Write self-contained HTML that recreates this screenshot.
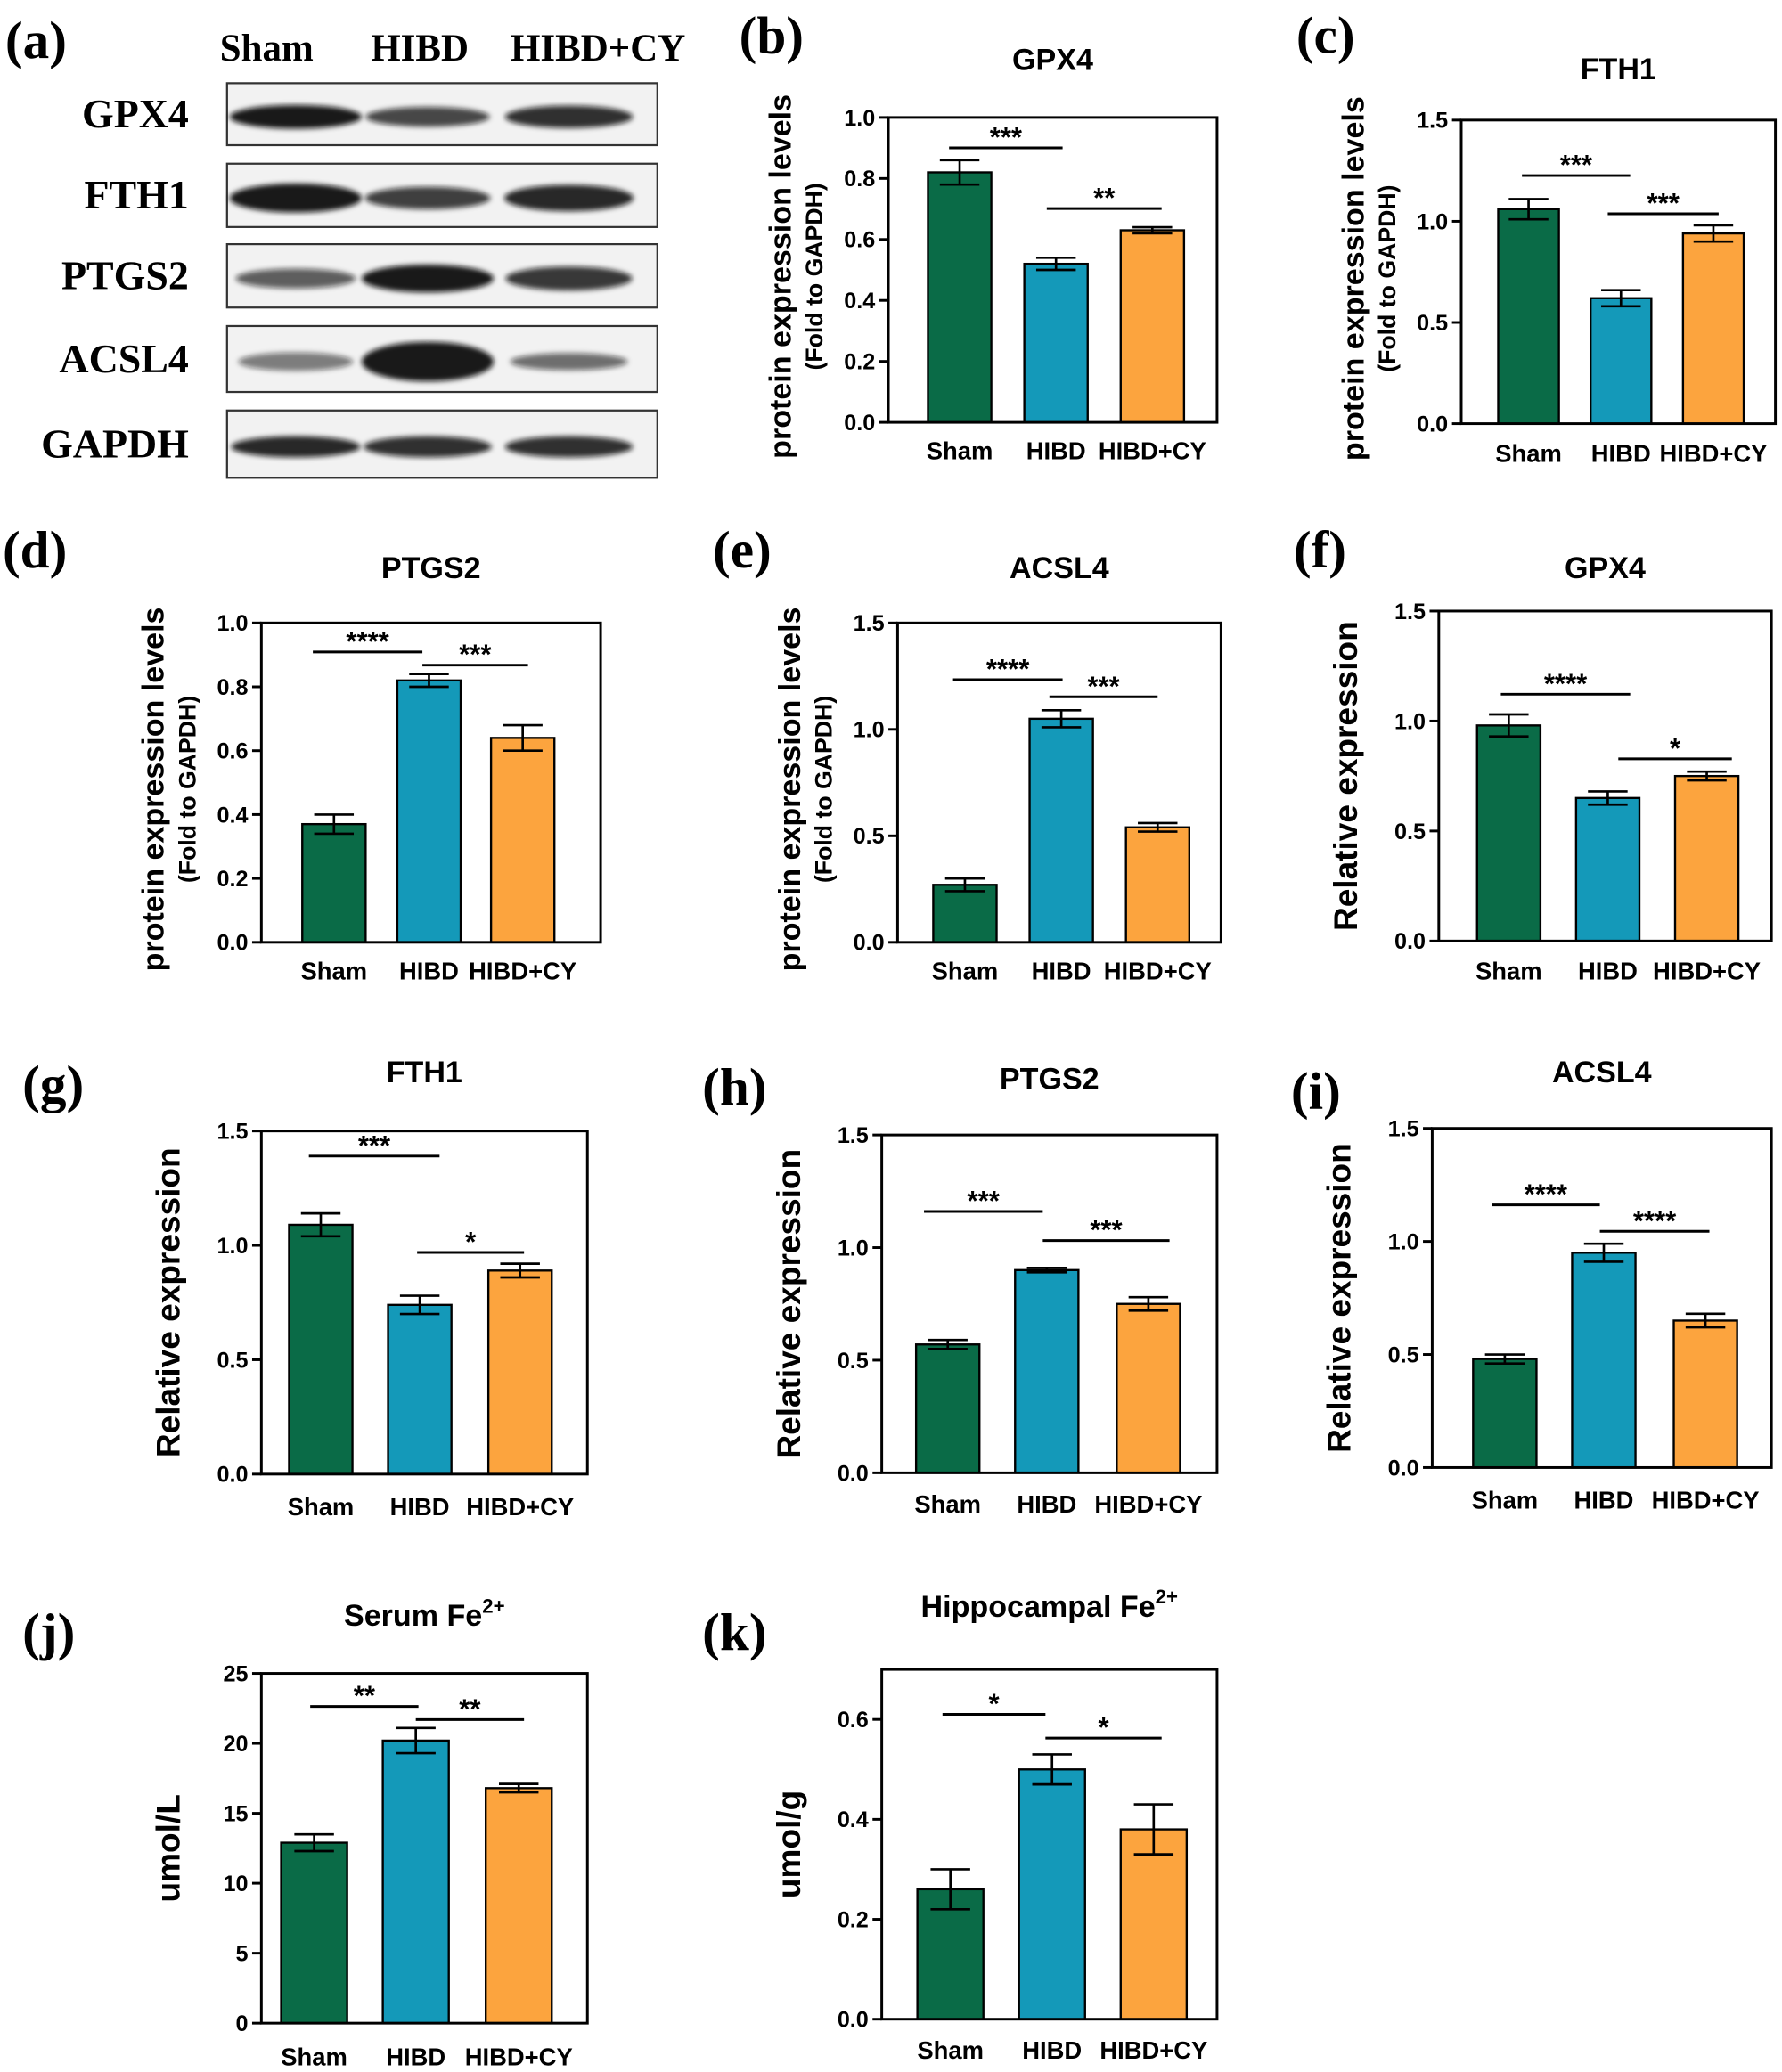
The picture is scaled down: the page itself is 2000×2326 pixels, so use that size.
<!DOCTYPE html>
<html><head><meta charset="utf-8">
<style>
html,body{margin:0;padding:0;background:#fff;}
svg{display:block;}
text{font-family:"Liberation Sans",sans-serif;}
.serif{font-family:"Liberation Serif",serif;font-weight:bold;}
</style></head>
<body>
<svg id="fig" xmlns="http://www.w3.org/2000/svg" width="2000" height="2326" viewBox="0 0 1350 1570">
<defs><filter id="blur" x="-20%" y="-50%" width="140%" height="200%"><feGaussianBlur stdDeviation="2"/></filter></defs>
<g>
<text class="serif" x="4" y="44" font-size="40">(a)</text>
<text class="serif" x="202" y="46" font-size="29" text-anchor="middle">Sham</text>
<text class="serif" x="318" y="46" font-size="29" text-anchor="middle">HIBD</text>
<text class="serif" x="453" y="46" font-size="29" text-anchor="middle">HIBD+CY</text>
<g id="blots"></g>
</g>
<g id="charts"></g>
</svg>
<script>
const NS="http://www.w3.org/2000/svg";
const categories=["Sham","HIBD","HIBD+CY"];
const colors=["#0a6b47","#1499b9","#fca43e"];
// data
const wbGPX4=[0.82,0.52,0.63], wbGPX4Err=[0.04,0.02,0.01];
const wbFTH1=[1.06,0.62,0.94], wbFTH1Err=[0.05,0.04,0.04];
const wbPTGS2=[0.37,0.82,0.64], wbPTGS2Err=[0.03,0.02,0.04];
const wbACSL4=[0.27,1.05,0.54], wbACSL4Err=[0.03,0.04,0.02];
const qGPX4=[0.98,0.65,0.75], qGPX4Err=[0.05,0.03,0.02];
const qFTH1=[1.09,0.74,0.89], qFTH1Err=[0.05,0.04,0.03];
const qPTGS2=[0.57,0.90,0.75], qPTGS2Err=[0.02,0.01,0.03];
const qACSL4=[0.48,0.95,0.65], qACSL4Err=[0.02,0.04,0.03];
const serumFe=[12.9,20.2,16.8], serumFeErr=[0.6,0.9,0.3];
const hippoFe=[0.26,0.50,0.38], hippoFeErr=[0.04,0.03,0.05];
const ticksFine=[0,0.2,0.4,0.6,0.8,1.0];
const ticksHalf=[0,0.5,1.0,1.5];
const ticksSerum=[0,5,10,15,20,25];
const ticksHippo=[0,0.2,0.4,0.6];
const sigB=["***","**"],sigC=["***","***"],sigD=["****","***"],sigE=["****","***"],sigF=["****","*"],
sigG=["***","*"],sigH=["***","***"],sigI=["****","****"],sigJ=["**","**"],sigK=["*","*"];

// layout (not data)
const panels=[
{id:"b",letter:"(b)",lx:560,ly:40,title:"GPX4",x0:673,x1:922,y0:89,y1:320,max:1.0,ticks:ticksFine,dec:1,vals:wbGPX4,err:wbGPX4Err,cx:[727,800,873],bw:48,ylab:2,sig:sigB,sl:[[719,805,112],[793,880,158]]},
{id:"c",letter:"(c)",lx:982,ly:40,title:"FTH1",x0:1107,x1:1345,y0:91,y1:321,max:1.5,ticks:ticksHalf,dec:1,vals:wbFTH1,err:wbFTH1Err,cx:[1158,1228,1298],bw:46,ylab:2,sig:sigC,sl:[[1153,1235,133],[1218,1302,162]]},
{id:"d",letter:"(d)",lx:2,ly:430,title:"PTGS2",x0:198,x1:455,y0:472,y1:714,max:1.0,ticks:ticksFine,dec:1,vals:wbPTGS2,err:wbPTGS2Err,cx:[253,325,396],bw:48,ylab:2,sig:sigD,sl:[[237,320,494],[320,400,504]]},
{id:"e",letter:"(e)",lx:540,ly:430,title:"ACSL4",x0:680,x1:925,y0:472,y1:714,max:1.5,ticks:ticksHalf,dec:1,vals:wbACSL4,err:wbACSL4Err,cx:[731,804,877],bw:48,ylab:2,sig:sigE,sl:[[722,805,515],[795,877,528]]},
{id:"f",letter:"(f)",lx:980,ly:430,title:"GPX4",x0:1090,x1:1342,y0:463,y1:713,max:1.5,ticks:ticksHalf,dec:1,vals:qGPX4,err:qGPX4Err,cx:[1143,1218,1293],bw:48,ylab:1,ytxt:"Relative expression",sig:sigF,sl:[[1137,1235,526],[1226,1312,575]]},
{id:"g",letter:"(g)",lx:17,ly:835,title:"FTH1",x0:198,x1:445,y0:857,y1:1117,max:1.5,ticks:ticksHalf,dec:1,vals:qFTH1,err:qFTH1Err,cx:[243,318,394],bw:48,ylab:1,ytxt:"Relative expression",sig:sigG,sl:[[234,333,876],[316,397,949]]},
{id:"h",letter:"(h)",lx:532,ly:837,title:"PTGS2",x0:668,x1:922,y0:860,y1:1116,max:1.5,ticks:ticksHalf,dec:1,vals:qPTGS2,err:qPTGS2Err,cx:[718,793,870],bw:48,ylab:1,ytxt:"Relative expression",sig:sigH,sl:[[700,790,918],[790,886,940]]},
{id:"i",letter:"(i)",lx:978,ly:840,title:"ACSL4",x0:1085,x1:1342,y0:855,y1:1112,max:1.5,ticks:ticksHalf,dec:1,vals:qACSL4,err:qACSL4Err,cx:[1140,1215,1292],bw:48,ylab:1,ytxt:"Relative expression",sig:sigI,sl:[[1130,1212,913],[1212,1295,933]]},
{id:"j",letter:"(j)",lx:17,ly:1250,title:"Serum Fe",sup:"2+",x0:198,x1:445,y0:1268,y1:1533,max:25,ticks:ticksSerum,dec:0,vals:serumFe,err:serumFeErr,cx:[238,315,393],bw:50,ylab:1,ytxt:"umol/L",sig:sigJ,sl:[[235,317,1293],[315,397,1303]]},
{id:"k",letter:"(k)",lx:532,ly:1250,title:"Hippocampal Fe",sup:"2+",x0:668,x1:922,y0:1265,y1:1530,max:0.7,ticks:ticksHippo,dec:1,vals:hippoFe,err:hippoFeErr,cx:[720,797,874],bw:50,ylab:1,ytxt:"umol/g",sig:sigK,sl:[[714,792,1299],[792,880,1317]]}
];
const titleY={b:53,c:60,d:438,e:438,f:438,g:820,h:825,i:820,j:1232,k:1225};
const catY={b:348,c:350,d:742,e:742,f:742,g:1148,h:1146,i:1143,j:1565,k:1560};

function el(tag,attrs,parent,txt){const e=document.createElementNS(NS,tag);for(const k in attrs)e.setAttribute(k,attrs[k]);if(txt!==undefined)e.textContent=txt;parent.appendChild(e);return e;}

const charts=document.getElementById("charts");
panels.forEach(p=>{
  const g=el("g",{},charts);
  
  
  const yS=v=>p.y1-(v/p.max)*(p.y1-p.y0);
  const L=el("text",{x:p.lx,y:p.ly,"font-size":40,class:"serif"},g,p.letter);
  
  
  const T=el("text",{x:(p.x0+p.x1)/2,y:titleY[p.id],"font-size":23,"font-weight":"bold","text-anchor":"middle"},g,p.title);
  
  
  if(p.sup){el("tspan",{"font-size":15,dy:-10},T,p.sup);}
  p.vals.forEach((v,i)=>{
    const top=yS(v);
    const r=el("rect",{x:p.cx[i]-p.bw/2,y:top,width:p.bw,height:p.y1-top,fill:colors[i],stroke:"#000","stroke-width":1.6},g);
    
    
    const e1=yS(v+p.err[i]),e2=yS(v-p.err[i]);
    const eb=el("path",{d:`M${p.cx[i]},${e1}V${e2}M${p.cx[i]-15},${e1}H${p.cx[i]+15}M${p.cx[i]-15},${e2}H${p.cx[i]+15}`,stroke:"#000","stroke-width":1.8,fill:"none"},g);
    
    
    const c=el("text",{x:p.cx[i],y:catY[p.id],"font-size":18.5,"font-weight":"bold","text-anchor":"middle"},g,categories[i]);
    
    
  });
  const fr=el("rect",{x:p.x0,y:p.y0,width:p.x1-p.x0,height:p.y1-p.y0,fill:"none",stroke:"#000","stroke-width":2},g);
  
  
  p.ticks.forEach(t=>{
    const y=yS(t);
    el("line",{x1:p.x0-7,x2:p.x0,y1:y,y2:y,stroke:"#000","stroke-width":2},g);
    const tl=el("text",{x:p.x0-10,y:y+6,"font-size":17,"font-weight":"bold","text-anchor":"end"},g,t.toFixed(p.dec));
    
    
  });
  const my=(p.y0+p.y1)/2;
  if(p.ylab===2){
    const a=el("text",{x:0,y:0,"font-size":23,"font-weight":"bold","text-anchor":"middle",transform:`translate(${p.x0-74},${my+5}) rotate(-90)`},g,"protein expression levels");
    
    
    const b=el("text",{x:0,y:0,"font-size":18,"font-weight":"bold","text-anchor":"middle",transform:`translate(${p.x0-50},${my+5}) rotate(-90)`},g,"(Fold to GAPDH)");
    
    
  } else {
    const a=el("text",{x:0,y:0,"font-size":25,"font-weight":"bold","text-anchor":"middle",transform:`translate(${p.x0-62},${my}) rotate(-90)`},g,p.ytxt);
    
    
  }
  p.sl.forEach((s,i)=>{
    const ln=el("line",{x1:s[0],x2:s[1],y1:s[2],y2:s[2],stroke:"#000","stroke-width":2},g);
    
    
    const st=el("text",{x:(s[0]+s[1])/2,y:s[2]-1,"font-size":21,"font-weight":"bold","text-anchor":"middle"},g,p.sig[i]);
    
    
  });
});

const blotRows=["GPX4","FTH1","PTGS2","ACSL4","GAPDH"];
const blotY=[[63,110],[124,172],[185,233],[247,297],[311,362]];
const bandW=[[1,0.7,0.85],[1,0.75,0.9],[0.55,1,0.8],[0.35,1,0.45],[0.9,0.85,0.85]];
const bandH=[[14,11,13],[18,13,16],[11,17,14],[10,26,9],[12,12,12]];
const bandX=[224,324,431];
const blots=document.getElementById("blots");
blotRows.forEach((r,i)=>{
  const [a,b]=blotY[i];
  const t=el("text",{x:143,y:(a+b)/2+10,"font-size":31,"text-anchor":"end",class:"serif"},blots,r);
  
  
  const bx=el("rect",{x:172,y:a,width:326,height:b-a,fill:"#f2f2f2",stroke:"#333","stroke-width":1.5},blots);
  
  
  bandX.forEach((x,j)=>{
    const w=bandW[i][j];
    const e=el("ellipse",{cx:x,cy:(a+b)/2+2,rx:40+10*w,ry:bandH[i][j]/2+2,fill:"#111","fill-opacity":0.3+0.65*w,filter:"url(#blur)"},blots);
    
    
  });
});
</script>
</body></html>
